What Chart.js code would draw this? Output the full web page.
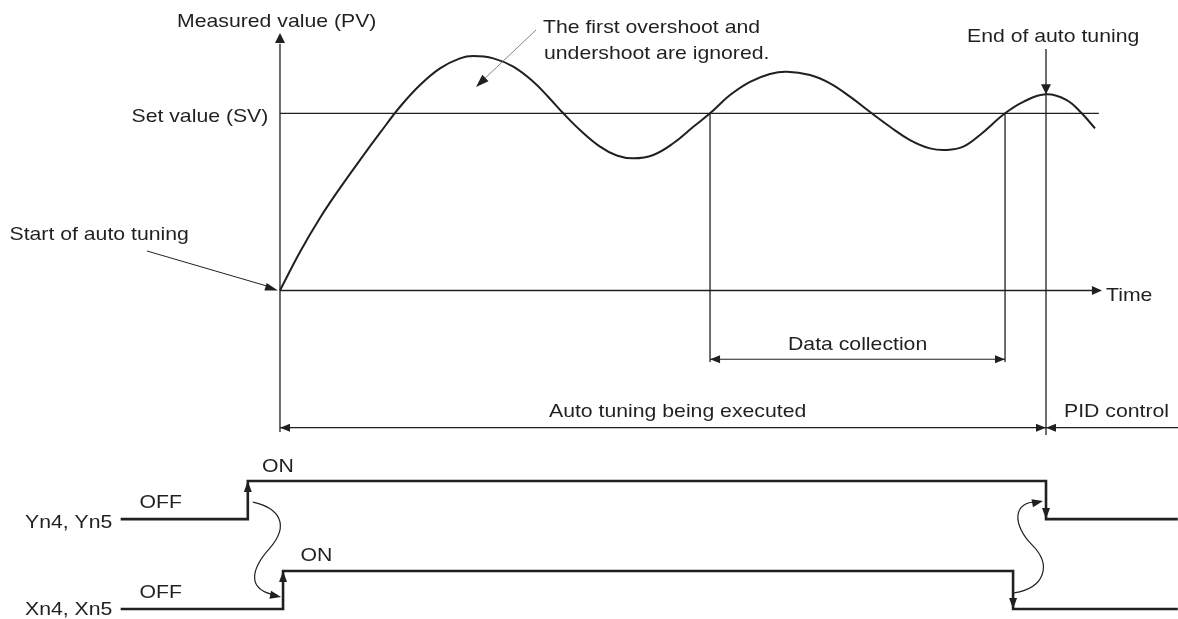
<!DOCTYPE html>
<html>
<head>
<meta charset="utf-8">
<script src="https://cdn.jsdelivr.net/npm/chart.js@4.4.1/dist/chart.umd.min.js"></script>
<style>
  html, body { margin: 0; padding: 0; background: #fff; }
  #wrap { width: 1178px; height: 619px; position: relative; }
</style>
</head>
<body>
<div id="wrap"><canvas id="myChart"></canvas></div>
<script>
// PV curve (time 0 = start of auto tuning, 100 = end; PV 100 = SV)
const SV = 100;
const pvTime  = [0, 2.61, 5.22, 7.83, 10.44, 13.05, 15.67, 18.28, 20.89, 23.5,
                 25.24, 27.85, 30.46, 33.07, 35.03, 36.98, 39.16, 41.78, 43.96, 46.12,
                 48.73, 51.34, 53.96, 56.14, 58.75, 61.36, 63.97, 66.15, 69.19, 71.8,
                 74.41, 77.25, 79.63, 82.25, 84.86, 87.04, 89.2, 91.38, 94.65, 97.04,
                 100, 102.7, 104.66, 106.4];
const pvValue = [0, 21.7, 40.9, 57.8, 73.6, 88.9, 103.7, 116, 125.4, 131,
                 132.3, 131, 126.3, 117.8, 109.2, 100, 90.6, 81.2, 76.2, 74.6,
                 76.5, 83.1, 92.4, 100, 110.3, 117.8, 122.2, 123.5, 121.6, 116.9,
                 109.4, 100, 92.4, 84.9, 80.2, 79.3, 81.2, 87.8, 100, 106.5,
                 110.7, 107.5, 100, 91.5];

// events on the time axis
const atStart = 0;
const atEnd = 100;
const collectStart = 56.14;
const collectEnd = 94.65;

// ON/OFF signals (time of each edge, level after it)
const ynTime  = [-20.8, -4.2, 100, 117.2];
const ynLevel = [-129, -107.5, -129, -129];
const xnTime  = [-20.8, 0.4, 95.7, 117.2];
const xnLevel = [-179.7, -158.3, -179.7, -179.7];

// texts: [label, left, baseline]
const labels = [
  ['Measured value (PV)', 177, 26.5],
  ['The first overshoot and', 543, 33],
  ['undershoot are ignored.', 544, 58.5],
  ['End of auto tuning', 967, 41.5],
  ['Set value (SV)', 131.5, 121.5],
  ['Start of auto tuning', 9.5, 240],
  ['Time', 1106, 300.5],
  ['Data collection', 788, 350],
  ['Auto tuning being executed', 549, 417],
  ['PID control', 1064, 417],
  ['ON', 262, 472],
  ['ON', 300.5, 561],
  ['OFF', 139.5, 508],
  ['OFF', 139.5, 598],
  ['Yn4, Yn5', 25, 528],
  ['Xn4, Xn5', 25, 615]
];

// layout (axis extents in data units)
const lay = {
  xMin: -36.55, xMax: 117.23, yMin: -185.38, yMax: 163.94,
  timeAxisEnd: 107.3, svEnd: 106.9, pvAxisTop: 145.3, pvAxisBottom: -79.9,
  collectY: -38.8, collectBottom: -40.3, atY: -77.4, atEndTop: 136.3, atEndBottom: -81.5
};

const ink = '#231f20';
const pts = (xs, ys) => xs.map((v, i) => ({ x: v, y: ys[i] }));
const seg = (x0, y0, x1, y1) => [{ x: x0, y: y0 }, { x: x1, y: y1 }];
const thin = { borderColor: ink, borderWidth: 1.3, pointRadius: 0, clip: false, tension: 0 };

function head(ctx, tx, ty, ang, len, wid) {
  ctx.save();
  ctx.translate(tx, ty);
  ctx.rotate(ang);
  ctx.beginPath();
  ctx.moveTo(0, 0);
  ctx.lineTo(-len, -wid / 2);
  ctx.lineTo(-len, wid / 2);
  ctx.closePath();
  ctx.fill();
  ctx.restore();
}

const diagram = {
  id: 'diagram',
  afterDatasetsDraw(chart) {
    const { ctx, scales: { x, y } } = chart;
    const X = v => x.getPixelForValue(v);
    const Y = v => y.getPixelForValue(v);
    ctx.save();
    ctx.fillStyle = ink;
    ctx.strokeStyle = ink;

    // axis arrows
    head(ctx, X(atStart), Y(lay.pvAxisTop), -Math.PI / 2, 10, 10);
    head(ctx, X(lay.timeAxisEnd), Y(0), 0, 10, 9);
    // end of auto tuning marker
    head(ctx, X(atEnd), Y(pvValue[pvTime.indexOf(atEnd)]), Math.PI / 2, 10, 10);

    // dimension arrows
    head(ctx, X(collectStart), Y(lay.collectY), Math.PI, 10, 8);
    head(ctx, X(collectEnd), Y(lay.collectY), 0, 10, 8);
    head(ctx, X(atStart), Y(lay.atY), Math.PI, 10, 8);
    head(ctx, X(atEnd), Y(lay.atY), 0, 10, 8);
    head(ctx, X(atEnd), Y(lay.atY), Math.PI, 10, 8);

    // signal edge arrows
    head(ctx, X(ynTime[1]), Y(ynLevel[1]), -Math.PI / 2, 11, 8);
    head(ctx, X(xnTime[1]), Y(xnLevel[1]), -Math.PI / 2, 11, 8);
    head(ctx, X(ynTime[2]), Y(ynLevel[2]), Math.PI / 2, 11, 8);
    head(ctx, X(xnTime[2]), Y(xnLevel[2]), Math.PI / 2, 11, 8);

    // pointer: start of auto tuning
    const sx = X(atStart), sy = Y(0);
    ctx.lineWidth = 1;
    ctx.beginPath();
    ctx.moveTo(147, 251);
    ctx.lineTo(sx - 8, sy - 3);
    ctx.stroke();
    head(ctx, sx - 2, sy, Math.atan2(sy - 251, sx - 2 - 147), 13, 8);

    // pointer: first overshoot
    ctx.strokeStyle = '#777';
    ctx.lineWidth = 0.9;
    ctx.beginPath();
    ctx.moveTo(536, 30);
    ctx.lineTo(481, 82);
    ctx.stroke();
    head(ctx, 476, 87, Math.atan2(87 - 30, 476 - 536), 13, 9);
    ctx.strokeStyle = ink;

    // wavy arrows between the signals
    ctx.lineWidth = 1.2;
    const yr = X(ynTime[1]), yOff = Y(ynLevel[0]);
    const xr = X(xnTime[1]), xOff = Y(xnLevel[0]);
    ctx.beginPath();
    ctx.moveTo(yr + 5, yOff - 17);
    ctx.bezierCurveTo(yr + 32, yOff - 11, yr + 42, yOff + 6, yr + 22, yOff + 29);
    ctx.bezierCurveTo(yr + 4, yOff + 49, yr - 3, yOff + 71, xr - 6, xOff - 13.5);
    ctx.stroke();
    head(ctx, xr - 2, xOff - 12, Math.atan2(6, 30), 11, 8);

    const yf = X(ynTime[2]), xf = X(xnTime[2]);
    ctx.beginPath();
    ctx.moveTo(xf + 1, xOff - 16);
    ctx.bezierCurveTo(xf + 32, xOff - 21, xf + 39, xOff - 44, xf + 19, xOff - 64);
    ctx.bezierCurveTo(xf - 1, xOff - 84, xf - 1, yOff - 19, yf - 7, yOff - 17);
    ctx.stroke();
    head(ctx, yf - 3, yOff - 18, Math.atan2(-5, 25), 11, 8);

    // texts
    ctx.font = '17.7px "Liberation Sans", Arial, sans-serif';
    ctx.textBaseline = 'alphabetic';
    ctx.textAlign = 'left';
    labels.forEach(([t, lx, by]) => {
      ctx.save();
      ctx.translate(lx, by);
      ctx.scale(1.2, 1);
      ctx.fillText(t, 0, 0);
      ctx.restore();
    });
    ctx.restore();
  }
};

new Chart(document.getElementById('myChart'), {
  type: 'line',
  data: {
    datasets: [
      { data: pts(pvTime, pvValue), borderColor: ink, borderWidth: 2, pointRadius: 0,
        tension: 0.4, clip: false },
      { ...thin, data: seg(atStart, SV, lay.svEnd, SV) },
      { ...thin, data: seg(atStart, 0, lay.timeAxisEnd - 8 / 7.66, 0) },
      { ...thin, data: seg(atStart, lay.pvAxisBottom, atStart, lay.pvAxisTop - 6) },
      { ...thin, data: seg(collectStart, SV, collectStart, lay.collectBottom) },
      { ...thin, data: seg(collectEnd, SV, collectEnd, lay.collectBottom) },
      { ...thin, data: seg(atEnd, lay.atEndTop, atEnd, lay.atEndBottom) },
      { ...thin, borderWidth: 1.1, data: seg(collectStart, lay.collectY, collectEnd, lay.collectY) },
      { ...thin, borderWidth: 1.1, data: seg(atStart, lay.atY, lay.xMax, lay.atY) },
      { data: pts(ynTime, ynLevel), stepped: 'before', borderColor: ink, borderWidth: 2.6,
        pointRadius: 0, clip: false },
      { data: pts(xnTime, xnLevel), stepped: 'before', borderColor: ink, borderWidth: 2.6,
        pointRadius: 0, clip: false }
    ]
  },
  options: {
    responsive: true,
    maintainAspectRatio: false,
    animation: false,
    layout: { padding: 0 },
    plugins: { legend: { display: false }, tooltip: { enabled: false }, title: { display: false } },
    scales: {
      x: { type: 'linear', min: lay.xMin, max: lay.xMax, display: false },
      y: { type: 'linear', min: lay.yMin, max: lay.yMax, display: false }
    }
  },
  plugins: [diagram]
});
</script>
</body>
</html>
